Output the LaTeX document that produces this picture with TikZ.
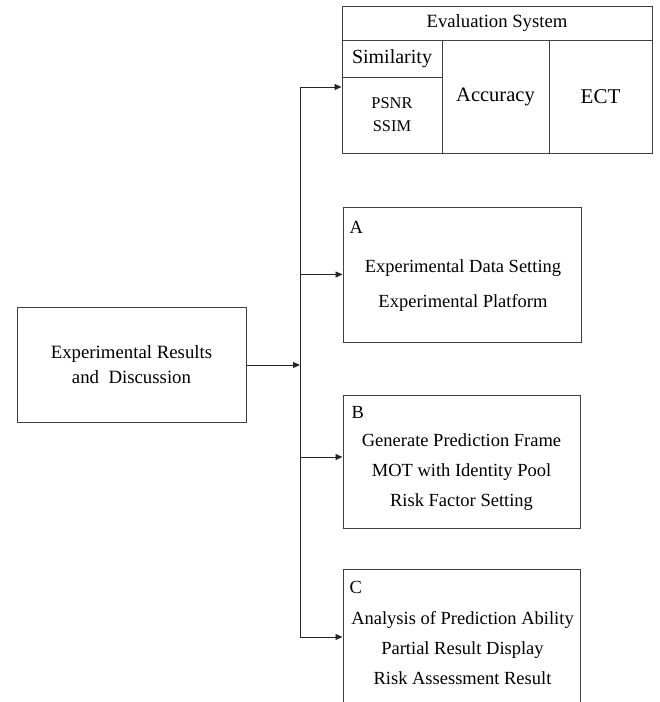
\documentclass[tikz,border=0pt]{standalone}
\usepackage{fontspec}
\setmainfont{Liberation Serif}
\usetikzlibrary{arrows.meta}

\begin{document}
\begin{tikzpicture}[x=1pt,y=-1pt,
   box/.style={draw=black!75,line width=1pt,inner sep=0pt},
   txt/.style={font=\fontsize{18.5}{30}\selectfont,align=center},
   arr/.style={-{Triangle[length=7pt,width=6pt]},line width=0.9pt,draw=black!85}]
\path[use as bounding box] (0,0) rectangle (660,702);
\clip (0,0) rectangle (660,702);
% left box
\node[box,txt,font=\fontsize{18.8}{25}\selectfont,minimum width=229pt,minimum height=115pt]
   (main) at (131.5,364.5) {Experimental Results\\and\ \ Discussion};
% evaluation table
\node[box,txt,font=\fontsize{18.7}{24}\selectfont,minimum width=310pt,minimum height=34pt]
   (eval) at (497,23) {Evaluation System};
\node[box,txt,font=\fontsize{20}{24}\selectfont,minimum width=100pt,minimum height=37pt]
   (sim) at (392,58.5) {Similarity};
\node[box,txt,font=\fontsize{16.4}{23}\selectfont,minimum width=100pt,minimum height=76pt]
   (simval) at (392,115) {PSNR\\SSIM};
\node[box,txt,font=\fontsize{20.5}{24}\selectfont,minimum width=107pt,minimum height=113pt]
   (acc) at (495.5,96.5) {Accuracy};
\node[box,txt,font=\fontsize{21}{24}\selectfont,minimum width=103pt,minimum height=113pt]
   (ect) at (600.5,96.5) {ECT};
% box A
\node[box,minimum width=238pt,minimum height=135pt] (boxa) at (462,274.5) {};
\node[txt,anchor=west] (labela) at (346,227) {A};
\node[txt,font=\fontsize{18.5}{35}\selectfont] (texta) at (463,285.5)
   {Experimental Data Setting\\Experimental Platform};
% box B
\node[box,minimum width=237pt,minimum height=133pt] (boxb) at (461.5,461.5) {};
\node[txt,anchor=west] (labelb) at (348,412) {B};
\node[txt] (textb) at (461.5,472)
   {Generate Prediction Frame\\MOT with Identity Pool\\Risk Factor Setting};
% box C
\node[box,minimum width=237pt,minimum height=162pt] (boxc) at (461.5,650) {};
\node[txt,anchor=west] (labelc) at (346,587) {C};
\node[txt] (textc) at (462.5,648.5)
   {Analysis of Prediction Ability\\Partial Result Display\\Risk Assessment Result};
% connectors
\coordinate (top) at (300,87);
\coordinate (mid) at (300,365);
\coordinate (ta) at (300,274.5);
\coordinate (tb) at (300,457);
\coordinate (bot) at (300,637);
\draw[line width=0.9pt,draw=black!85] (top) -- (bot);
\draw[arr] (main.east |- mid) -- (mid);
\draw[arr] (top) -- (top -| simval.west);
\draw[arr] (ta) -- (boxa.west);
\draw[arr] (tb) -- (tb -| boxb.west);
\draw[arr] (bot) -- (bot -| boxc.west);
\end{tikzpicture}
\end{document}
